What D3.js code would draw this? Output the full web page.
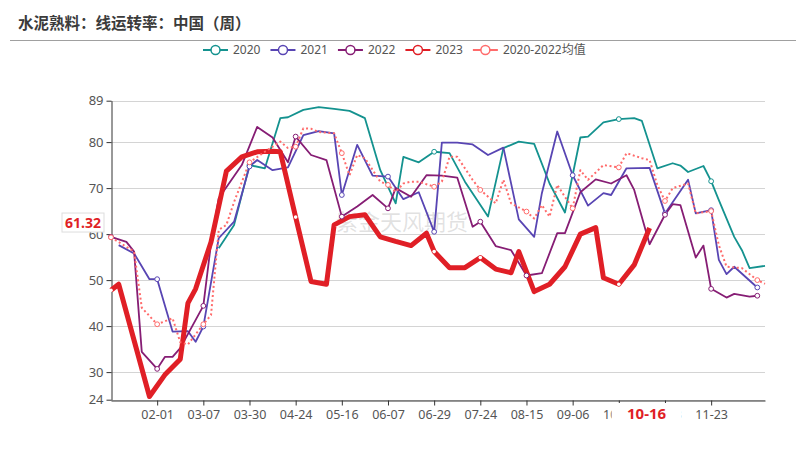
<!DOCTYPE html>
<html>
<head>
<meta charset="utf-8">
<script src="https://cdn.jsdelivr.net/npm/d3@7"></script>
<style>
  body { margin: 0; background: #fff; }
  svg { display: block; font-family: "Noto Sans", "Noto Sans CJK SC", sans-serif; }
</style>
</head>
<body>
<div id="chart"></div>
<script>
// week dates (MM-DD), union of all years
const categories = [
  '01-03','01-07','01-10','01-14','01-17','01-21','02-01','02-07','02-14','02-21',
  '02-25','02-28','03-07','03-10','03-14','03-17','03-21','03-24','03-30','04-03',
  '04-07','04-10','04-14','04-17','04-24','04-28','05-01','05-05','05-08','05-12',
  '05-16','05-19','05-22','05-26','05-29','06-02','06-07','06-09','06-12','06-16',
  '06-19','06-23','06-29','07-03','07-07','07-10','07-14','07-17','07-24','07-28',
  '07-31','08-04','08-07','08-11','08-15','08-18','08-21','08-25','08-28','09-01',
  '09-06','09-09','09-13','09-16','09-20','09-24','10-08','10-09','10-11','10-13',
  '10-16','10-20','10-23','10-27','10-30','11-03','11-10','11-17','11-23','11-27',
  '12-01','12-04','12-08','12-15','12-22','12-29'
];
const tickLabels = ['02-01','03-07','03-30','04-24','05-16','06-07','06-29','07-24','08-15','09-06','10-08','10-23','11-23'];
const yTicks = [24, 30, 40, 50, 60, 70, 80, 89];

const s2020 = [
  ['03-14',56.9],['03-21',62.0],['03-30',75.0],['04-07',74.3],['04-14',85.2],['04-17',85.4],
  ['04-28',87.0],['05-05',87.6],['05-12',87.2],['05-19',86.8],['05-26',85.2],['06-02',73.9],
  ['06-09',66.7],['06-12',76.8],['06-19',75.6],['06-29',77.9],['07-07',77.6],['07-14',71.4],
  ['07-28',63.8],['08-04',78.7],['08-11',80.1],['08-18',79.6],['08-25',71.0],['09-01',64.7],
  ['09-09',81.0],['09-13',81.2],['09-20',84.3],['10-08',85.0],['10-11',85.2],['10-13',84.6],
  ['10-20',74.3],['10-27',75.4],['10-30',74.9],['11-03',73.5],['11-17',74.8],['11-23',71.5],
  ['11-27',67.4],['12-04',59.4],['12-08',56.5],['12-15',52.6],['12-29',53.1]
];
const s2021 = [
  ['01-07',57.6],['01-14',55.8],['01-21',50.2],['02-01',50.2],['02-14',38.8],['02-25',38.9],
  ['02-28',36.6],['03-07',39.9],['03-14',59.1],['03-21',62.7],['03-30',74.7],['04-03',76.1],
  ['04-10',73.9],['04-17',74.5],['04-28',81.5],['05-05',82.4],['05-12',81.9],['05-16',68.5],
  ['05-22',79.4],['05-29',72.7],['06-07',72.5],['06-12',67.6],['06-19',69.1],['06-29',60.5],
  ['07-03',79.9],['07-10',79.9],['07-17',79.5],['07-28',77.2],['08-04',78.8],['08-11',63.2],
  ['08-18',59.4],['08-21',68.9],['08-28',82.3],['09-06',72.8],['09-13',66.2],['09-20',68.9],
  ['09-24',68.5],['10-09',74.3],['10-16',74.4],['10-23',64.5],['11-03',71.8],['11-10',64.5],
  ['11-23',65.2],['11-27',54.4],['12-01',51.3],['12-04',52.9],['12-22',48.4]
];
const s2022 = [
  ['01-03',59.4],['01-10',58.3],['01-14',56.2],['01-17',34.4],['02-01',30.7],['02-07',33.3],
  ['02-14',33.3],['02-21',35.2],['03-07',44.4],['03-10',58.0],['03-14',67.8],['03-24',75.0],
  ['04-03',83.3],['04-10',81.0],['04-17',75.6],['04-24',81.2],['05-01',77.2],['05-08',76.1],
  ['05-16',63.8],['05-22',66.0],['05-29',68.5],['06-07',65.6],['06-09',70.0],['06-16',68.1],
  ['06-23',72.8],['07-03',72.7],['07-10',72.3],['07-17',61.6],['07-24',62.7],['07-31',57.4],
  ['08-07',56.5],['08-15',51.0],['08-21',51.5],['08-28',60.2],['09-01',60.2],['09-09',69.1],
  ['09-16',71.9],['09-24',71.0],['10-09',72.8],['10-11',69.6],['10-16',57.8],['10-23',64.2],
  ['10-27',66.5],['10-30',66.3],['11-10',54.9],['11-17',57.5],['11-23',48.1],['12-01',46.2],
  ['12-04',47.0],['12-15',46.4],['12-22',46.6]
];
const s2023 = [
  ['01-03',47.8],['01-07',49.1],['01-21',24.7],['02-07',29.4],['02-21',32.8],['02-25',45.0],
  ['02-28',48.1],['03-10',58.3],['03-17',73.7],['03-24',76.8],['04-03',77.9],['04-10',78.0],
  ['04-14',77.9],['04-24',63.7],['05-01',49.7],['05-08',49.1],['05-12',62.0],['05-19',63.8],
  ['05-26',64.2],['06-02',59.4],['06-09',58.4],['06-16',57.5],['06-23',60.2],['06-29',56.2],
  ['07-07',52.7],['07-14',52.7],['07-24',54.9],['07-31',52.4],['08-07',51.6],['08-11',56.2],
  ['08-18',47.5],['08-25',49.1],['09-01',52.9],['09-09',60.0],['09-16',61.4],['09-20',50.5],
  ['10-08',49.1],['10-11',53.3],['10-16',61.32]
];
const sAvg = [
  ['01-03',59.3],['01-14',56.2],['01-17',44.0],['02-01',40.4],['02-14',41.7],['02-21',36.5],
  ['02-25',36.0],['03-07',40.4],['03-10',42.4],['03-14',60.9],['03-17',62.0],['03-21',67.0],
  ['03-30',75.6],['04-07',77.9],['04-14',80.1],['04-17',78.7],['04-24',79.0],['04-28',83.0],
  ['05-01',82.9],['05-05',82.2],['05-12',81.9],['05-16',77.6],['05-19',72.8],['05-22',77.2],
  ['05-26',76.5],['06-02',71.4],['06-07',70.7],['06-09',69.2],['06-12',71.0],['06-16',71.4],
  ['06-19',71.4],['06-29',70.3],['07-03',71.4],['07-07',76.8],['07-10',76.8],['07-17',71.8],
  ['07-24',69.6],['07-31',66.7],['08-04',71.8],['08-07',66.7],['08-15',64.9],['08-18',63.4],
  ['08-21',66.3],['08-25',63.8],['08-28',70.7],['09-01',68.1],['09-06',65.6],['09-09',73.9],
  ['09-13',71.8],['09-20',75.0],['10-08',74.5],['10-09',77.6],['10-13',76.5],['10-16',76.1],
  ['10-20',70.7],['10-23',67.2],['10-27',70.0],['11-03',71.0],['11-10',64.5],['11-23',65.0],
  ['11-27',57.6],['12-01',52.9],['12-08',52.6],['12-22',50.0],['12-29',49.2]
];

const seriesNames = ['2020', '2021', '2022', '2023', '2020-2022均值'];
const pointerDate = '10-16';
const pointerValue = 61.32;

const series = [
  { name: seriesNames[0], data: s2020, color: '#14928f', width: 1.8 },
  { name: seriesNames[1], data: s2021, color: '#5845b3', width: 1.8 },
  { name: seriesNames[2], data: s2022, color: '#861d74', width: 1.8 },
  { name: seriesNames[3], data: s2023, color: '#e01f26', width: 5 },
  { name: seriesNames[4], data: sAvg, color: '#ff6b6b', width: 2, dash: '2,2.6' }
];

const W = 806, H = 460;
const svg = d3.select('#chart').append('svg')
  .attr('width', W)
  .attr('height', H);

const x = d3.scalePoint().domain(categories).range([111, 765]);
const y = d3.scaleLinear().domain([24, 89]).range([399.7, 100.7]);

// title
svg.append('text')
  .attr('x', 18)
  .attr('y', 28.5)
  .text('水泥熟料：线运转率：中国（周）')
  .style('font-family', '"Noto Sans CJK SC", sans-serif')
  .style('font-size', '15.5px')
  .style('font-weight', 'bold')
  .attr('fill', '#3b3b3b');
svg.append('line')
  .attr('x1', 10).attr('x2', 796)
  .attr('y1', 40.5).attr('y2', 40.5)
  .attr('stroke', '#a0a0a0');

// legend
const legend = svg.append('g').attr('class', 'legend');
let lx = 203;
series.forEach((s) => {
  const g = legend.append('g').attr('transform', `translate(${lx}, 50)`);
  g.append('line').attr('x1', 0).attr('x2', 25).attr('y1', 0).attr('y2', 0)
    .attr('stroke', s.color).attr('stroke-width', 2);
  g.append('circle').attr('cx', 12.5).attr('cy', 0).attr('r', 4.5)
    .attr('fill', '#fff').attr('stroke', s.color).attr('stroke-width', 1.5);
  const t = g.append('text').attr('x', 30).attr('y', 4.3).text(s.name)
    .style('font-size', '12px').attr('fill', '#555');
  lx += 30 + t.node().getComputedTextLength() + 10;
});

// grid
svg.append('g').attr('class', 'grid')
  .selectAll('line')
  .data(yTicks)
  .enter().append('line')
  .attr('x1', 111).attr('x2', 765)
  .attr('y1', (d) => Math.round(y(d)) + 0.5)
  .attr('y2', (d) => Math.round(y(d)) + 0.5)
  .attr('stroke', '#d4d4d4');

// axes
const yAxis = svg.append('g')
  .attr('transform', 'translate(111.5,0)')
  .call(d3.axisLeft(y).tickValues(yTicks).tickSize(5).tickSizeOuter(0).tickPadding(3));
const xAxis = svg.append('g')
  .attr('transform', `translate(0,${Math.round(y(24)) + 0.5})`)
  .call(d3.axisBottom(x).tickValues(categories.filter((c) => tickLabels.includes(c))).tickSize(5).tickSizeOuter(0).tickPadding(5));
[yAxis, xAxis].forEach((a) => {
  a.select('.domain').attr('stroke', '#333');
  a.selectAll('.tick line').attr('stroke', '#333');
  a.selectAll('.tick text').attr('fill', '#555').style('font-family', '"Noto Sans", sans-serif');
});
yAxis.selectAll('.tick text').style('font-size', '13px');
xAxis.selectAll('.tick text').style('font-size', '12.5px');

// watermark
svg.append('text')
  .attr('x', 402).attr('y', 230)
  .attr('text-anchor', 'middle')
  .text('紫金天风期货')
  .style('font-family', '"Noto Sans CJK SC", sans-serif')
  .style('font-size', '22px')
  .attr('fill', 'rgba(150,150,150,0.28)');

// lines
const line = d3.line()
  .x((d) => x(d[0]))
  .y((d) => y(d[1]));

const lines = svg.append('g').attr('class', 'lines');
series.forEach((s) => {
  lines.append('path')
    .attr('d', line(s.data))
    .attr('fill', 'none')
    .attr('stroke', s.color)
    .attr('stroke-width', s.width)
    .attr('stroke-linejoin', 'round')
    .attr('stroke-dasharray', s.dash || null);
});

// sparse symbols, on label interval
series.forEach((s) => {
  lines.selectAll(null)
    .data(s.data.filter((d) => categories.indexOf(d[0]) % 6 === 0))
    .enter().append('circle')
    .attr('cx', (d) => x(d[0]))
    .attr('cy', (d) => y(d[1]))
    .attr('r', s.width > 3 ? 1.8 : 2.4)
    .attr('fill', '#fff')
    .attr('stroke', s.color)
    .attr('stroke-width', s.width > 3 ? 0 : 1);
});

// axis pointer labels
const px = x(pointerDate) - 3;
const py = y(pointerValue) - 5.5;
svg.append('rect')
  .attr('x', 62).attr('y', py - 9.5).attr('width', 42).attr('height', 19)
  .attr('fill', '#fff').attr('stroke', '#ddd');
svg.append('text')
  .attr('x', 83).attr('y', py + 5)
  .attr('text-anchor', 'middle')
  .text(d3.format('.2f')(pointerValue))
  .style('font-size', '14px').style('font-weight', 'bold')
  .attr('fill', '#e01f26');

svg.append('rect')
  .attr('x', px - 35).attr('y', 403).attr('width', 70).attr('height', 20)
  .attr('fill', '#fff');
svg.append('text')
  .attr('x', px).attr('y', 419)
  .attr('text-anchor', 'middle')
  .text(pointerDate)
  .style('font-size', '15px').style('font-weight', 'bold')
  .attr('fill', '#e01f26');
</script>
</body>
</html>
